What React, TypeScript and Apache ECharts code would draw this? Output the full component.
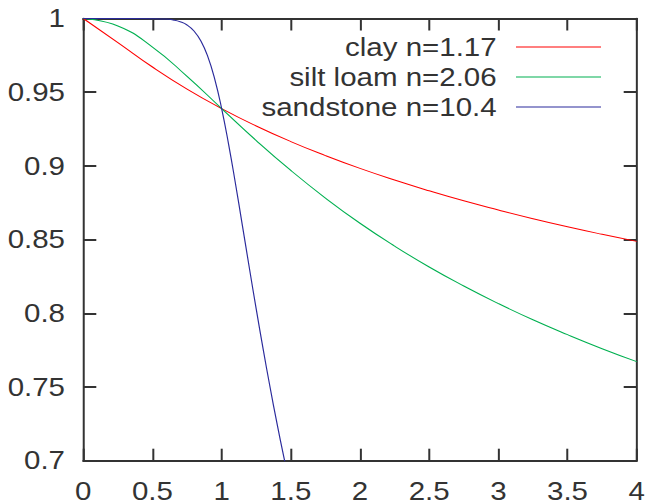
import React, { useEffect, useRef } from "react";
import * as echarts from "echarts";

const seriesNames = ["clay n=1.17", "silt loam n=2.06", "sandstone n=10.4"];
const seriesColors = ["#ff0000", "#00b050", "#2b2b9c"];

const clayX = [0, 0.25, 0.5, 0.75, 1, 1.25, 1.5, 1.75, 2, 2.25, 2.5, 2.75, 3, 3.25, 3.5, 3.75, 4];
const clayY = [1, 0.9837, 0.9671, 0.9521, 0.9389, 0.9271, 0.9165, 0.907, 0.8983, 0.8904, 0.8831, 0.8763, 0.8701, 0.8642, 0.8587, 0.8536, 0.8488];

const siltX = [0, 0.25, 0.5, 0.75, 1, 1.25, 1.5, 1.75, 2, 2.25, 2.5, 2.75, 3, 3.25, 3.5, 3.75, 4];
const siltY = [1, 0.9949, 0.9806, 0.9607, 0.9389, 0.9172, 0.8969, 0.8782, 0.8611, 0.8456, 0.8314, 0.8185, 0.8066, 0.7956, 0.7855, 0.776, 0.7672];

const sandX = [0, 0.25, 0.5, 0.6, 0.65, 0.7, 0.75, 0.8, 0.85, 0.9, 0.95, 1, 1.05, 1.1, 1.15, 1.2, 1.25, 1.3, 1.35, 1.4, 1.45, 1.5];
const sandY = [1, 1, 0.9999, 0.9996, 0.999, 0.9978, 0.9956, 0.9915, 0.9847, 0.9741, 0.9589, 0.9389, 0.9148, 0.8879, 0.8595, 0.8309, 0.8028, 0.7757, 0.7498, 0.7253, 0.7022, 0.6804];

const xMin = 0, xMax = 4, xStep = 0.5;
const yMin = 0.7, yMax = 1, yStep = 0.05;

const PAGE_W = 651;
const PAGE_H = 504;
const CHART_W = 552;
const SX = PAGE_W / CHART_W;
const FONT = "'Liberation Sans', Arial, sans-serif";
const INK = "#333333";

function pairs(xs: number[], ys: number[]) {
  return xs.map((x, i) => [x, ys[i]]);
}

export default function App() {
  const ref = useRef<HTMLDivElement>(null);
  useEffect(() => {
    if (!ref.current) return;
    const chart = echarts.init(ref.current, undefined, { renderer: "svg" });
    const datasets = [pairs(clayX, clayY), pairs(siltX, siltY), pairs(sandX, sandY)];
    const tickLen = 12;
    const label = { fontFamily: FONT, fontSize: 25, color: INK };
    chart.setOption({
      animation: false,
      backgroundColor: "#ffffff",
      textStyle: { fontFamily: FONT },
      grid: { left: 83.3 / SX, right: CHART_W - 636.7 / SX, top: 18.5, bottom: PAGE_H - 460.7, containLabel: false },
      legend: {
        orient: "vertical",
        align: "right",
        right: CHART_W - 601 / SX,
        top: 32,
        padding: 0,
        itemGap: 0,
        icon: "rect",
        itemWidth: 85 / SX,
        itemHeight: 1.2,
        selectedMode: false,
        data: seriesNames,
        textStyle: { fontFamily: FONT, fontSize: 25, color: INK, lineHeight: 30, padding: [0, 11.4, 0, 0] },
      },
      xAxis: [
        {
          type: "value", min: xMin, max: xMax, interval: xStep, position: "bottom",
          axisLine: { show: true, onZero: false, lineStyle: { color: INK, width: 2 } },
          axisTick: { show: true, inside: true, length: tickLen, lineStyle: { color: INK, width: 1.7 } },
          axisLabel: { ...label, lineHeight: 20, margin: 20.5, showMinLabel: true, showMaxLabel: true },
          splitLine: { show: false },
        },
        {
          type: "value", min: xMin, max: xMax, interval: xStep, position: "top",
          axisLine: { show: true, onZero: false, lineStyle: { color: INK, width: 2 } },
          axisTick: { show: true, inside: true, length: tickLen, lineStyle: { color: INK, width: 1.7 } },
          axisLabel: { show: false },
          splitLine: { show: false },
        },
      ],
      yAxis: [
        {
          type: "value", min: yMin, max: yMax, interval: yStep, position: "left",
          axisLine: { show: true, onZero: false, lineStyle: { color: INK, width: 1.7 } },
          axisTick: { show: true, inside: true, length: 13 / SX, lineStyle: { color: INK, width: 2 } },
          axisLabel: { ...label, margin: 15.5, showMinLabel: true, showMaxLabel: true },
          splitLine: { show: false },
        },
        {
          type: "value", min: yMin, max: yMax, interval: yStep, position: "right",
          axisLine: { show: true, onZero: false, lineStyle: { color: INK, width: 1.7 } },
          axisTick: { show: true, inside: true, length: 13 / SX, lineStyle: { color: INK, width: 2 } },
          axisLabel: { show: false },
          splitLine: { show: false },
        },
      ],
      series: seriesNames.map((name, i) => ({
        name,
        type: "line",
        xAxisIndex: 0,
        yAxisIndex: 0,
        data: datasets[i],
        symbol: "none",
        showSymbol: false,
        smooth: true,
        clip: true,
        color: seriesColors[i],
        lineStyle: { color: seriesColors[i], width: 1 },
      })),
    });
    return () => chart.dispose();
  }, []);
  return (
    <div
      ref={ref}
      style={{
        position: "absolute",
        left: 0,
        top: 0,
        width: CHART_W,
        height: PAGE_H,
        transform: `scaleX(${SX})`,
        transformOrigin: "0 0",
      }}
    />
  );
}
